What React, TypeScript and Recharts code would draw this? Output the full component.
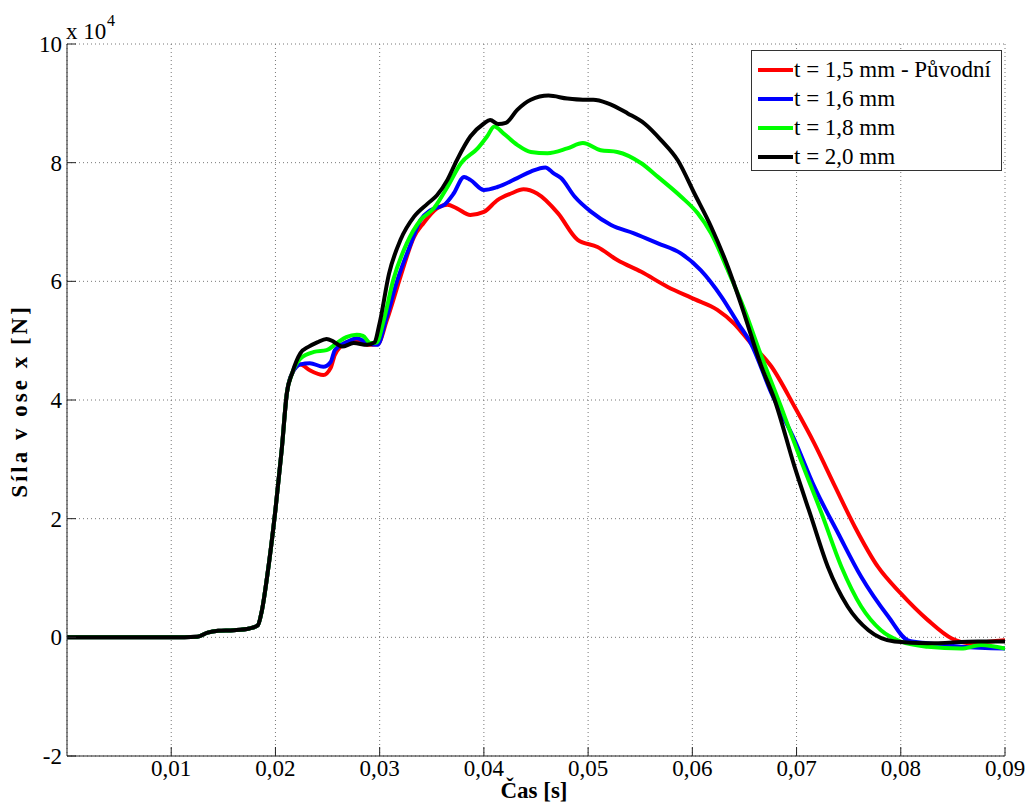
import React from "react";
import { LineChart, Line, XAxis, YAxis, CartesianGrid } from "recharts";

type P = [number, number];

// Shared start of all curves: [time s, force x10^4 N]
const commonStart: P[] = [
  [0, 0], [0.005, 0], [0.01, 0], [0.0125, 0.01], [0.0135, 0.08], [0.0145, 0.11],
  [0.016, 0.12], [0.0175, 0.15], [0.0183, 0.2], [0.0187, 0.45], [0.0192, 1.02],
  [0.02, 2.15], [0.0206, 3.16], [0.0211, 4.12], [0.0216, 4.45],
];

const series15: P[] = [
  [0.0224, 4.6], [0.0233, 4.5], [0.0246, 4.42], [0.0253, 4.54], [0.0257, 4.76],
  [0.0269, 4.98], [0.0278, 5.01], [0.0288, 4.93], [0.0298, 4.94], [0.0307, 5.35],
  [0.032, 6.08], [0.0333, 6.75], [0.0342, 6.98], [0.0355, 7.23], [0.0365, 7.29],
  [0.0374, 7.23], [0.0387, 7.12], [0.04, 7.17], [0.0413, 7.37], [0.0426, 7.48],
  [0.0438, 7.55], [0.0451, 7.48], [0.0471, 7.15], [0.049, 6.7], [0.0509, 6.58],
  [0.0528, 6.36], [0.0551, 6.16], [0.0576, 5.91], [0.0602, 5.7], [0.0624, 5.52],
  [0.064, 5.29], [0.0656, 4.96], [0.0676, 4.56], [0.0698, 3.89], [0.0717, 3.27],
  [0.0737, 2.54], [0.0756, 1.86], [0.0778, 1.19], [0.08, 0.74], [0.0826, 0.29],
  [0.0849, -0.02], [0.0868, -0.1], [0.0887, -0.07], [0.09, -0.05],
];

const series16: P[] = [
  [0.0224, 4.6], [0.0233, 4.62], [0.0246, 4.56], [0.0253, 4.64], [0.0257, 4.84],
  [0.0269, 4.98], [0.0278, 5.04], [0.0288, 4.96], [0.0298, 4.93], [0.0306, 5.35],
  [0.0317, 6.02], [0.033, 6.64], [0.0339, 7.03], [0.0349, 7.2], [0.0362, 7.29],
  [0.0371, 7.48], [0.0381, 7.76], [0.0387, 7.71], [0.04, 7.54], [0.0413, 7.59],
  [0.0432, 7.74], [0.0445, 7.85], [0.0459, 7.92], [0.0467, 7.82], [0.0474, 7.74],
  [0.0487, 7.43], [0.0503, 7.17], [0.0522, 6.95], [0.0544, 6.81], [0.0567, 6.64],
  [0.0589, 6.47], [0.0608, 6.19], [0.0628, 5.74], [0.0644, 5.29], [0.0656, 4.96],
  [0.0676, 4.11], [0.0698, 3.33], [0.0717, 2.54], [0.074, 1.75], [0.0762, 1.02],
  [0.0788, 0.35], [0.0807, -0.05], [0.0826, -0.1], [0.0858, -0.16], [0.09, -0.19],
];

const series18: P[] = [
  [0.0224, 4.7], [0.0237, 4.81], [0.0249, 4.84], [0.0259, 4.96], [0.0268, 5.06],
  [0.0278, 5.1], [0.0284, 5.08], [0.0291, 4.96], [0.0297, 4.97], [0.0304, 5.35],
  [0.0313, 6.02], [0.0326, 6.64], [0.0339, 7.03], [0.0352, 7.23], [0.0365, 7.59],
  [0.0378, 7.99], [0.0394, 8.24], [0.0403, 8.44], [0.041, 8.61], [0.0419, 8.49],
  [0.0432, 8.3], [0.0445, 8.18], [0.0461, 8.16], [0.048, 8.24], [0.0495, 8.33],
  [0.0512, 8.21], [0.0528, 8.18], [0.0551, 7.99], [0.0567, 7.76], [0.0589, 7.43],
  [0.0605, 7.15], [0.0618, 6.81], [0.0634, 6.19], [0.065, 5.52], [0.0666, 4.75],
  [0.0685, 3.89], [0.0704, 2.99], [0.0724, 2.09], [0.0743, 1.19], [0.0762, 0.52],
  [0.0781, 0.12], [0.08, -0.07], [0.0826, -0.16], [0.0858, -0.19], [0.0877, -0.13],
  [0.09, -0.19],
];

const series20: P[] = [
  [0.0224, 4.79], [0.0232, 4.9], [0.024, 4.97], [0.0249, 5.03], [0.0256, 4.98],
  [0.0264, 4.9], [0.0275, 4.96], [0.0288, 4.93], [0.0295, 4.97], [0.03, 5.3],
  [0.0309, 6.13], [0.032, 6.7], [0.0333, 7.09], [0.0346, 7.31], [0.0355, 7.45],
  [0.0365, 7.71], [0.0374, 8.04], [0.0387, 8.44], [0.04, 8.66], [0.0406, 8.72],
  [0.0414, 8.65], [0.0421, 8.67], [0.0432, 8.89], [0.0445, 9.06], [0.0462, 9.13],
  [0.048, 9.08], [0.0495, 9.06], [0.0505, 9.06], [0.0519, 9.0], [0.0538, 8.83],
  [0.0554, 8.66], [0.057, 8.38], [0.0586, 8.04], [0.0602, 7.48], [0.0618, 6.92],
  [0.0634, 6.25], [0.0647, 5.6], [0.0666, 4.58], [0.0679, 4.0], [0.0698, 2.88],
  [0.0714, 2.03], [0.073, 1.19], [0.0749, 0.52], [0.0769, 0.12], [0.0794, -0.07],
  [0.0826, -0.1], [0.0874, -0.07], [0.09, -0.07],
];

const seriesNames = ["t = 1,5 mm - Původní", "t = 1,6 mm", "t = 1,8 mm", "t = 2,0 mm"];
const seriesColors = ["#ff0000", "#0000ff", "#00ff00", "#000000"];
const seriesPoints = [series15, series16, series18, series20];

const xTicks = [0.01, 0.02, 0.03, 0.04, 0.05, 0.06, 0.07, 0.08, 0.09];
const yTicks = [-2, 0, 2, 4, 6, 8, 10];

const FONT = "Liberation Serif, DejaVu Serif, Times New Roman, serif";

const toRows = (pts: P[]) => [...commonStart, ...pts].map(([t, f]) => ({ t, f }));

const txt = { fontFamily: FONT };

const XTick = (props: any) => {
  const { x, y, payload } = props;
  return (
    <text x={x} y={y} dy={16} textAnchor="middle" style={txt} fontSize={23} fill="#000">
      {payload.value.toFixed(2).replace(".", ",")}
    </text>
  );
};

const YTick = (props: any) => {
  const { x, y, payload } = props;
  return (
    <text x={x} y={y} dy={8} textAnchor="end" style={txt} fontSize={23} fill="#000">
      {String(payload.value)}
    </text>
  );
};

export default function App() {
  return (
    <div style={{ position: "absolute", left: 0, top: 0, width: 1028, height: 807, background: "#fff", fontFamily: FONT }}>
      <LineChart width={1028} height={807} margin={{ top: 44, right: 23, bottom: 11, left: 7 }} style={txt}>
        <CartesianGrid stroke="#777" strokeDasharray="1 3" strokeWidth={1} />
        <XAxis
          dataKey="t"
          type="number"
          domain={[0, 0.09]}
          ticks={xTicks}
          allowDataOverflow
          height={40}
          stroke="#222"
          tickSize={-9}
          tickMargin={13}
          tick={<XTick />}
          interval={0}
        />
        <XAxis
          xAxisId="top"
          orientation="top"
          dataKey="t"
          type="number"
          domain={[0, 0.09]}
          ticks={xTicks}
          height={0}
          stroke="#222"
          tickSize={-9}
          tick={false}
        />
        <YAxis
          type="number"
          domain={[-2, 10]}
          ticks={yTicks}
          allowDataOverflow
          width={60}
          stroke="#222"
          tickSize={-9}
          tickMargin={14}
          tick={<YTick />}
          interval={0}
        />
        <YAxis
          yAxisId="right"
          orientation="right"
          type="number"
          domain={[-2, 10]}
          ticks={yTicks}
          width={0}
          stroke="#222"
          tickSize={-9}
          tick={false}
        />
        {seriesPoints.map((pts, i) => (
          <Line
            key={seriesNames[i]}
            data={toRows(pts)}
            dataKey="f"
            name={seriesNames[i]}
            type="monotone"
            stroke={seriesColors[i]}
            strokeWidth={4}
            dot={false}
            activeDot={false}
            isAnimationActive={false}
          />
        ))}
        <text x={22} y={401} transform="rotate(-90 22 401)" textAnchor="middle" dominantBaseline="middle"
          style={{ ...txt, letterSpacing: 3 }} fontSize={23} fontWeight="bold" fill="#000">
          Síla v ose x [N]
        </text>
        <text x={534} y={798} textAnchor="middle" style={txt} fontSize={23} fontWeight="bold" fill="#000">
          Čas [s]
        </text>
        <text x={66} y={39} style={txt} fontSize={23} fill="#000">
          x 10
        </text>
        <text x={107} y={26} style={txt} fontSize={16} fill="#000">
          4
        </text>
      </LineChart>
      <div
        style={{
          position: "absolute",
          left: 751,
          top: 50,
          width: 249,
          height: 119,
          background: "#fff",
          border: "1px solid #333",
          boxSizing: "content-box",
        }}
      >
        {seriesNames.map((n, i) => (
          <div key={n} style={{ position: "absolute", left: 0, top: 4 + i * 29, height: 29, display: "flex", alignItems: "center", whiteSpace: "nowrap" }}>
            <div style={{ marginLeft: 6, width: 35, height: 4, background: seriesColors[i] }} />
            <span style={{ marginLeft: 1, fontFamily: FONT, fontSize: 23, color: "#000", lineHeight: "29px" }}>{n}</span>
          </div>
        ))}
      </div>
    </div>
  );
}
